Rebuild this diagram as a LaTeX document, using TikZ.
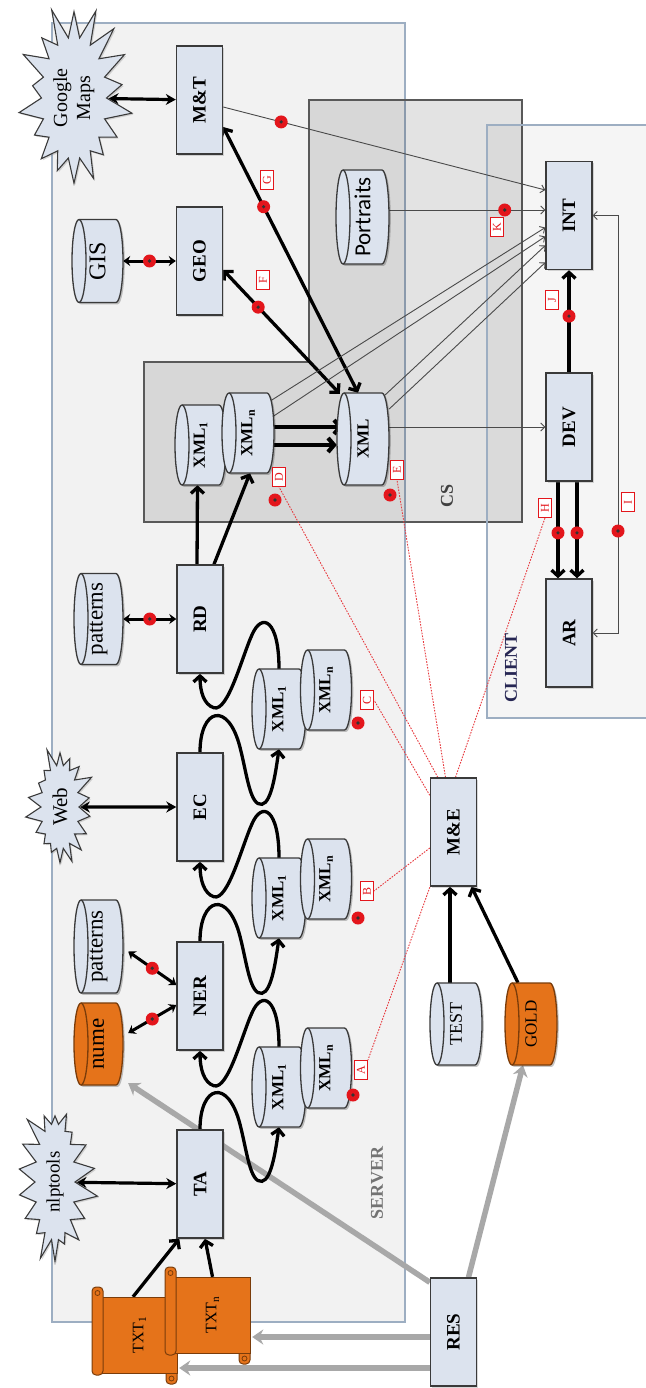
\documentclass[tikz,border=0pt]{standalone}
\usepackage{fontspec}
\setmainfont{Liberation Serif}
\newfontfamily\portraitfont{Carlito}
\usetikzlibrary{arrows.meta,calc,shapes.symbols,shadows}

\pgfdeclarelayer{frames}
\pgfdeclarelayer{links}
\pgfsetlayers{frames,links,main}

\definecolor{boxfill}{HTML}{DCE3EE}
\definecolor{boxline}{HTML}{3A3A3A}
\definecolor{orangefill}{HTML}{E5731A}
\definecolor{orangeline}{HTML}{7A3C0A}
\definecolor{framefill}{HTML}{F2F2F2}
\definecolor{frameline}{HTML}{9DAEC2}
\definecolor{markred}{HTML}{E3161C}
\definecolor{gateline}{HTML}{A8A8A8}
\definecolor{thinline}{HTML}{4A4A4A}

\newcommand\fs[1]{\fontsize{#1}{#1}\selectfont}
\newcommand\rot[1]{\rotatebox{90}{#1}}
\newcommand\xmltext[1]{\bfseries\fs{17}XML\textsubscript{#1}}

% cylinder lying on its side, visible face on the left
% #1 name, #2 cx, #3 cy, #4 width, #5 height, #6 fill, #7 line, #8 text
\newcommand\store[8]{%
  \pgfmathsetmacro\sxa{#2-#4/2}%
  \pgfmathsetmacro\sxb{#2+#4/2}%
  \pgfmathsetmacro\sya{#3-#5/2}%
  \pgfmathsetmacro\syb{#3+#5/2}%
  \pgfmathsetmacro\sry{#5/2}%
  \fill[black,opacity=0.22,shift={(1.8,1.8)}] (\sxa+7,\sya) -- (\sxb-7,\sya)
     arc[start angle=90,end angle=-90,x radius=7pt,y radius=\sry pt] -- (\sxa+7,\syb)
     arc[start angle=270,end angle=90,x radius=7pt,y radius=\sry pt] -- cycle;
  \filldraw[line width=1.3pt,draw=#7,fill=#6] (\sxa+7,\sya) -- (\sxb-7,\sya)
     arc[start angle=90,end angle=-90,x radius=7pt,y radius=\sry pt] -- (\sxa+7,\syb)
     arc[start angle=270,end angle=90,x radius=7pt,y radius=\sry pt] -- cycle;
  \draw[line width=1.3pt,draw=#7] (\sxa+7,\sya)
     arc[start angle=90,end angle=-90,x radius=7pt,y radius=\sry pt];
  \node[storetext,minimum width=#4pt,minimum height=#5pt] (#1) at (#2,#3) {#8};
}

% rolled document; #1 name, #2 cx, #3 cy, #4 width, #5 height, #6 text
\newcommand\scrollpage[6]{%
  \pgfmathsetmacro\sxa{#2-#4/2}%
  \pgfmathsetmacro\sxb{#2+#4/2}%
  \pgfmathsetmacro\sya{#3-#5/2}%
  \pgfmathsetmacro\syb{#3+#5/2}%
  \filldraw[scrollpaper,rounded corners=4pt] (\sxb-11,\sya+10) rectangle (\sxb,\syb+11);
  \filldraw[scrollpaper] (\sxa,\sya) rectangle (\sxb,\syb);
  \filldraw[scrollpaper,rounded corners=4pt] (\sxa-10,\sya-10) rectangle (\sxa+1,\syb+2);
  \draw[orangeline,line width=0.8pt] (\sxa-4.5,\sya-4) circle (2.5pt);
  \draw[orangeline,line width=0.8pt] (\sxb-5.5,\syb+5.5) circle (2.5pt);
  \node[storetext,minimum width=#4pt,minimum height=#5pt] (#1) at (#2,#3) {#6};
}

\tikzset{
  procbox/.style={draw=boxline,fill=boxfill,line width=1.4pt,inner sep=0pt,
    minimum width=46pt,minimum height=108pt,font=\bfseries\fs{19},
    drop shadow={shadow xshift=1.8pt,shadow yshift=-1.8pt,opacity=0.3}},
  storetext/.style={inner sep=0pt},
  scrollpaper/.style={draw=orangeline,fill=orangefill,line width=1pt},
  burst/.style={starburst,draw=boxline,fill=boxfill,line width=1.1pt,inner sep=0pt,
    starburst points=18,
    drop shadow={shadow xshift=1.5pt,shadow yshift=-1.5pt,opacity=0.3}},
  dot/.style={circle,fill=markred,minimum size=13pt,inner sep=0pt,
    path picture={\fill[black!80] (path picture bounding box.center) circle (1.8pt);}},
  tag/.style={draw=markred,fill=white,line width=0.9pt,text=markred,inner sep=0pt,
    minimum width=13pt,minimum height=19pt,font=\fs{12}},
  heavy/.style={line width=3.3pt,-{Straight Barb[length=6pt,width=13pt]}},
  heavier/.style={line width=4.2pt,-{Straight Barb[length=6pt,width=14pt]}},
  heavyboth/.style={line width=3.3pt,{Straight Barb[length=6pt,width=13pt]}-{Straight Barb[length=6pt,width=13pt]}},
  ext/.style={line width=3.2pt,{Stealth[length=10pt,width=11pt]}-{Stealth[length=10pt,width=11pt]}},
  extshort/.style={line width=3pt,{Stealth[length=7pt,width=10pt]}-{Stealth[length=7pt,width=10pt]}},
  fine/.style={draw=thinline,line width=0.9pt,-{Straight Barb[length=4pt,width=8pt]}},
  fineboth/.style={draw=thinline,line width=0.9pt,{Straight Barb[length=4pt,width=8pt]}-{Straight Barb[length=4pt,width=8pt]}},
  feed/.style={draw=gateline,line width=5.5pt,-{Stealth[length=11pt,width=15pt]}},
  audit/.style={draw=markred!85!white,line width=0.9pt,dash pattern=on 1.6pt off 1.3pt},
}

% S-shaped hand-over between a stage, its output files and the next stage
\newcommand\stage[3]{%
  \draw[heavy] (#1.north) .. controls ($(#1.north)+(0,-44)$) and ($(#1.north)+(28,-52)$)
    .. ($(#1.north)+(40,-5)$) .. controls ($(#1.north)+(47,22)$) and ($(#1.north)+(50,54)$)
    .. ($(#1.north)+(62,52)$) .. controls ($(#1.north)+(72,50)$) and ($(#2.south)+(-3,20)$)
    .. (#2.south);
  \draw[heavy] (#2.north) .. controls ($(#2.north)+(0,-49)$) and ($(#2.north)+(-17,-57)$)
    .. ($(#2.north)+(-27,-34)$) .. controls ($(#2.north)+(-37,-12)$) and ($(#2.north)+(-51,43)$)
    .. ($(#2.north)+(-65,39)$) .. controls ($(#2.north)+(-75,36)$) and ($(#3.south)+(0,18)$)
    .. (#3.south);
}

\begin{document}
\begin{tikzpicture}[x=1pt,y=-1pt]
\useasboundingbox (0,0) rectangle (645,1388);

\begin{pgfonlayer}{frames}
  \fill[white] (0,0) rectangle (645,1388);
  % server area
  \filldraw[draw=frameline,fill=framefill,line width=1.6pt] (52,23) rectangle (405,1322);
  % shared store area
  \fill[black,opacity=0.11] (309,100) -- (522,100) -- (522,522) -- (144,522) -- (144,362) -- (309,362) -- cycle;
  \draw[black!65,line width=1.3pt] (309,100) -- (522,100) -- (522,522) -- (144,522) -- (144,362) -- (309,362) -- cycle;
  % client area
  \filldraw[draw=frameline,fill=black,fill opacity=0.04,line width=1.6pt] (487,125) rectangle (680,718);
\end{pgfonlayer}

% area labels
\node[font=\bfseries\fs{18},text=black!55] (serverlabel) at (377,1183) {\rot{SERVER}};
\node[font=\bfseries\fs{18},text=black!75!blue!70!gray] (clientlabel) at (511,668) {\rot{CLIENT}};
\node[font=\bfseries\fs{18},text=black!75] (cslabel) at (447,496) {\rot{CS}};

% processing modules
\node[procbox] (mt)  at (199.5,100) {\rot{M\&T}};
\node[procbox] (geo) at (199.5,261) {\rot{GEO}};
\node[procbox] (rd)  at (200,619) {\rot{RD}};
\node[procbox] (ec)  at (200,807) {\rot{EC}};
\node[procbox] (ner) at (200,996) {\rot{NER}};
\node[procbox] (ta)  at (200,1184) {\rot{TA}};
\node[procbox] (int) at (569,215.5) {\rot{INT}};
\node[procbox] (dev) at (569,427) {\rot{DEV}};
\node[procbox] (ar)  at (569,633) {\rot{AR}};
\node[procbox] (me)  at (453.5,832) {\rot{M\&E}};
\node[procbox] (res) at (453.5,1332) {\rot{RES}};

% external services
\node[burst,minimum width=124pt,minimum height=190pt,starburst point height=34pt,random starburst=11]
  (gmaps) at (74,98) {\rot{\fontsize{20}{23}\selectfont\begin{tabular}{@{}c@{}}Google\\Maps\end{tabular}}};
\node[burst,minimum width=78pt,minimum height=124pt,starburst point height=20pt,random starburst=5]
  (web) at (60,807) {\rot{\fs{21}Web}};
\node[burst,minimum width=88pt,minimum height=165pt,starburst point height=24pt,random starburst=3]
  (nlp) at (55,1182) {\rot{\fs{19}nlptools}};

% data stores
\store{gis}{97.5}{261}{51}{83}{boxfill}{boxline}{\rot{\fs{24}GIS}}
\store{portraits}{362.5}{217}{53}{94}{boxfill}{boxline}{\rot{\portraitfont\fs{23}Portraits}}
\store{patone}{98.5}{619}{49}{91}{boxfill}{boxline}{\rot{\fs{23}patterns}}
\store{pattwo}{98.5}{946.5}{49}{93}{boxfill}{boxline}{\rot{\fs{23}patterns}}
\store{nume}{98.5}{1044}{49}{82}{orangefill}{orangeline}{\rot{\fs{23}nume}}
\store{xdone}{200.5}{445}{51}{80}{boxfill}{boxline}{\rot{\xmltext{1}}}
\store{xdn}{248}{433}{52}{80}{boxfill}{boxline}{\rot{\xmltext{n}}}
\store{xe}{363}{439}{52}{92}{boxfill}{boxline}{\rot{\bfseries\fs{17}XML}}
\store{xcone}{279}{709}{54}{80}{boxfill}{boxline}{\rot{\xmltext{1}}}
\store{xcn}{326}{690}{51}{80}{boxfill}{boxline}{\rot{\xmltext{n}}}
\store{xbone}{279}{898}{54}{80}{boxfill}{boxline}{\rot{\xmltext{1}}}
\store{xbn}{326}{879}{51}{80}{boxfill}{boxline}{\rot{\xmltext{n}}}
\store{xaone}{279}{1087}{54}{80}{boxfill}{boxline}{\rot{\xmltext{1}}}
\store{xan}{326}{1068}{51}{80}{boxfill}{boxline}{\rot{\xmltext{n}}}
\store{test}{456}{1024}{52}{82}{boxfill}{boxline}{\rot{\fs{18}TEST}}
\store{gold}{531}{1024}{52}{82}{orangefill}{orangeline}{\rot{\fs{17}GOLD}}

% input texts
\scrollpage{txtone}{139.5}{1335}{75}{76}{\rot{\fs{16}TXT\textsubscript{1}}}
\scrollpage{txtn}{212.5}{1315}{75}{76}{\rot{\fs{16}TXT\textsubscript{n}}}

% checkpoint tags
\node[tag] (tagA) at (361,1070) {\rot{A}};
\node[tag] (tagB) at (367,891) {\rot{B}};
\node[tag] (tagC) at (367,700) {\rot{C}};
\node[tag] (tagD) at (279,477) {\rot{D}};
\node[tag] (tagE) at (397,470) {\rot{E}};
\node[tag] (tagF) at (263,280) {\rot{F}};
\node[tag] (tagG) at (267,180) {\rot{G}};
\node[tag] (tagH) at (545,508) {\rot{H}};
\node[tag] (tagI) at (628,502) {\rot{I}};
\node[tag] (tagJ) at (552,300) {\rot{J}};
\node[tag] (tagK) at (497,227) {\rot{K}};
\node[dot] (dotA) at (353,1095) {};
\node[dot] (dotB) at (358,918) {};
\node[dot] (dotC) at (358,723) {};
\node[dot] (dotD) at (275,500) {};
\node[dot] (dotE) at (390,495) {};
\node[dot] (dotI) at (618,531) {};

\begin{pgfonlayer}{links}
  % resources feeding the pipeline
  \draw[feed] ($(res.north west)+(0,5)$) -- ($(nume.south east)+(5,-2)$);
  \draw[feed] ($(res.north)+(15,0)$) -- ($(gold.south)+(-8,0)$);
  \draw[feed] ($(res.west)+(0,5)$) -- ($(txtn.east)+(2,22)$);
  \draw[feed] ($(res.west)+(0,36)$) -- ($(txtone.east)+(2,33)$);

  % quality checks
  \draw[audit] ($(me.south west)+(2,-5)$) -- (tagA.north east);
  \draw[audit] ($(me.west)+(0,16)$) -- (tagB.east);
  \draw[audit] ($(me.north west)+(0,18)$) -- (tagC.east);
  \draw[audit] ($(me.north west)+(8,0)$) -- (tagD.south);
  \draw[audit] ($(me.north)+(-8,0)$) -- (tagE.south);
  \draw[audit] ($(me.north)+(2,0)$) -- (tagH.south);

  % services
  \draw[ext] (gmaps) -- (mt);
  \draw[ext] (web) -- (ec);
  \draw[ext] (nlp) -- (ta);
  \draw[extshort] (gis.east) -- node[dot]{} (geo.west);
  \draw[extshort] (patone.east) -- node[dot]{} (rd.west);
  \draw[extshort] ($(pattwo.east)+(5,5)$) -- node[dot]{} ($(ner.west)+(0,-11)$);
  \draw[extshort] ($(nume.east)+(5,-11)$) -- node[dot]{} ($(ner.west)+(0,9)$);

  % pipeline
  \draw[heavy] ($(txtone.north)+(-6.5,0)$) -- ($(ta.south west)+(3,0)$);
  \draw[heavy] (txtn.north) -- ($(ta.south)+(5,0)$);
  \stage{ta}{xaone}{ner}
  \stage{ner}{xbone}{ec}
  \stage{ec}{xcone}{rd}
  \draw[heavy] ($(rd.north)+(-3,0)$) -- ($(xdone.south)+(-3,0)$);
  \draw[heavy] ($(rd.north)+(14,0)$) -- ($(xdn.south)+(2,0)$);
  \draw[heavier] ($(xdn.east)+(0,-6)$) -- ($(xe.west)+(6,-12)$);
  \draw[heavier] ($(xdn.east)+(0,12)$) -- ($(xe.west)+(0,6)$);
  \draw[heavyboth] ($(geo.east)+(0,9)$) -- node[dot,pos=0.3]{} ($(xe.north west)+(3,1)$);
  \draw[heavyboth] ($(mt.east)+(0,27)$) -- node[dot,pos=0.3]{} ($(xe.north)+(-5,0)$);

  % client side
  \draw[fine] ($(mt.east)+(0,7)$) -- node[dot,pos=0.18]{} ($(int.west)+(0,-25.5)$);
  \draw[fine] ($(portraits.east)+(0,-7)$) -- node[dot,pos=0.74]{} ($(int.west)+(0,-5.5)$);
  \draw[fine] (xdone.center) -- ($(int.west)+(0,12)$);
  \draw[fine] (xdn.center) -- ($(int.west)+(0,21)$);
  \draw[fine] ($(xe.north east)+(-5,3)$) -- ($(int.west)+(0,30)$);
  \draw[fine] ($(xe.east)+(0,-30)$) -- ($(int.west)+(0,47)$);
  \draw[fine] ($(xe.east)+(0,-12)$) -- (dev.west);
  \draw[heavy] (dev.north) -- node[dot,pos=0.55]{} (int.south);
  \draw[heavy] ($(dev.south)+(-11,0)$) -- node[dot,pos=0.53]{} ($(ar.north)+(-11,0)$);
  \draw[heavy] ($(dev.south)+(8,0)$) -- node[dot,pos=0.53]{} ($(ar.north)+(8,0)$);
  \draw[fineboth] (ar.east) -- ++(26,0) |- (int.east);

  % evaluation inputs
  \draw[heavy] ($(test.north)+(-6,0)$) -- ($(me.south)+(-3.5,0)$);
  \draw[heavy] ($(gold.north)+(-13,0)$) -- ($(me.south)+(18,0)$);
\end{pgfonlayer}
\end{tikzpicture}
\end{document}
